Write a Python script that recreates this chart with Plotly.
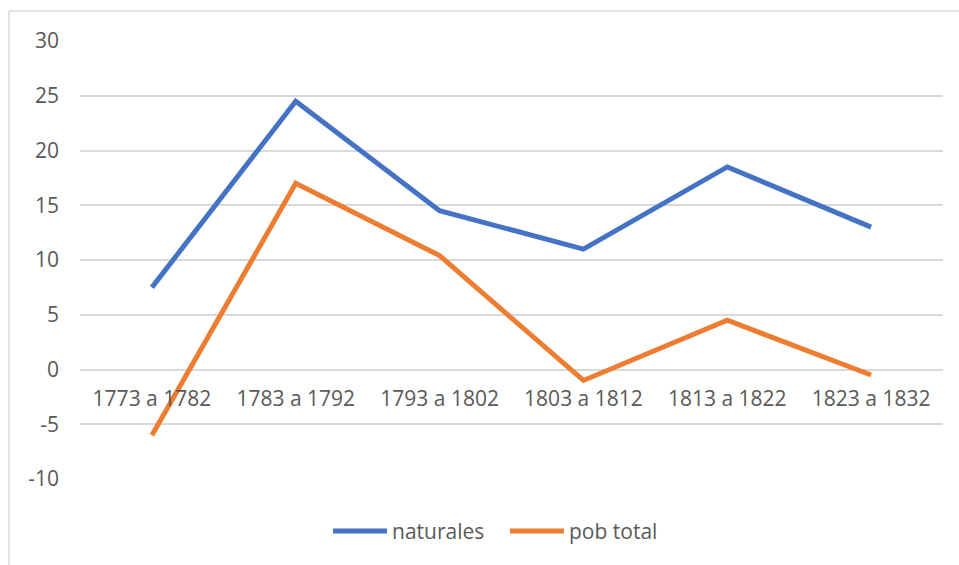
import plotly.graph_objects as go

categories = ["1773 a 1782", "1783 a 1792", "1793 a 1802", "1803 a 1812", "1813 a 1822", "1823 a 1832"]
naturales = [7.5, 24.5, 14.5, 11.0, 18.5, 13.0]
pob_total = [-6.0, 17.0, 10.4, -1.0, 4.5, -0.5]
y_ticks = [-10, -5, 0, 5, 10, 15, 20, 25, 30]
y_tick_labels = ["-10", "-5", "0", "5", "10", "15", "20", "25", "30"]
series_names = ["naturales", "pob total"]
series_colors = ["#4472C4", "#ED7D31"]

FONT = "Open Sans"
TXT = "#595959"
GRID = "#d9d9d9"

fig = go.Figure()
for name, vals, col in zip(series_names, [naturales, pob_total], series_colors):
    fig.add_trace(go.Scatter(x=categories, y=vals, mode="lines", name=name,
                             line=dict(color=col, width=5), showlegend=False))

W, H = 959, 565
L, R, T, B = 80, 16, 41, 86
pw, ph = W - L - R, H - T - B

def px_x(p):
    return (p - L) / pw

def px_y(p):
    return (H - B - p) / ph

fig.update_layout(
    width=W, height=H,
    margin=dict(l=L, r=R, t=T, b=B, autoexpand=False),
    paper_bgcolor="white", plot_bgcolor="white",
    font=dict(family=FONT, size=21, color=TXT),
    xaxis=dict(type="category", range=[-0.5, 5.5], showgrid=False, zeroline=False, showline=False,
               ticks="", anchor="free", position=px_y(370), ticklabelstandoff=14,
               tickfont=dict(family=FONT, size=21, color=TXT), fixedrange=True),
    yaxis=dict(range=[-10, 30], tickvals=y_ticks, ticktext=y_tick_labels,
               showgrid=True, gridcolor=GRID, gridwidth=1.5,
               zeroline=False, showline=False, ticks="", ticklabelstandoff=20,
               tickfont=dict(family=FONT, size=21, color=TXT), fixedrange=True),
)

# chart frame (Excel chart area border)
fx, fy = px_x(9), px_y(11)
fig.add_shape(type="line", xref="paper", yref="paper", x0=fx, x1=fx, y0=-0.5, y1=fy,
              line=dict(color=GRID, width=1.5))
fig.add_shape(type="line", xref="paper", yref="paper", x0=fx, x1=1.2, y0=fy, y1=fy,
              line=dict(color=GRID, width=1.5))

# legend (Excel style, long swatches)
legend_starts = [333, 510]
ly = px_y(531)
for name, col, sx in zip(series_names, series_colors, legend_starts):
    fig.add_shape(type="line", xref="paper", yref="paper", x0=px_x(sx), x1=px_x(sx + 54),
                  y0=ly, y1=ly, line=dict(color=col, width=5))
    fig.add_annotation(xref="paper", yref="paper", x=px_x(sx + 57), y=ly, text=name,
                       showarrow=False, xanchor="left", yanchor="middle",
                       font=dict(family=FONT, size=21, color=TXT))

fig.write_html("out.html", config={"displayModeBar": False},
               post_script="document.body.style.margin='0';document.body.style.overflow='hidden';")
